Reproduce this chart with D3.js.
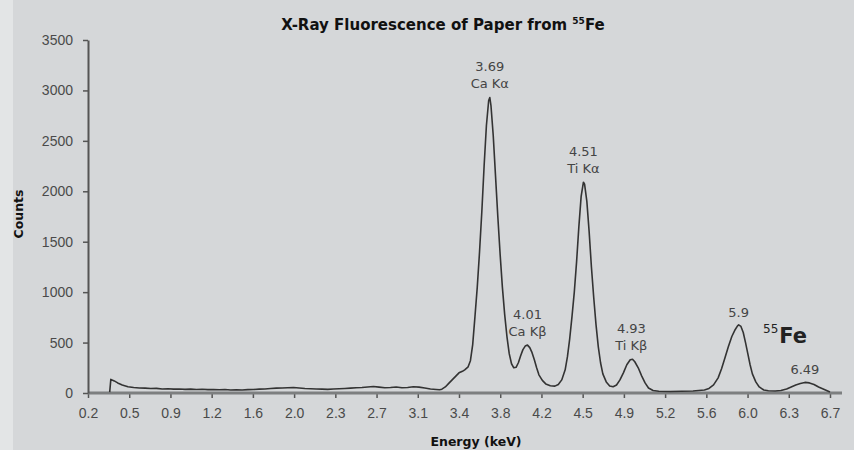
<!DOCTYPE html>
<html>
<head>
<meta charset="utf-8">
<script src="https://cdn.jsdelivr.net/npm/d3@7"></script>
<style>
  body { margin: 0; background: #e3e5e6; }
  svg { display: block; font-family: "DejaVu Sans", Verdana, sans-serif; }
</style>
</head>
<body>
<div id="chart"></div>
<script>
// spectrum: energy (keV) and counts
const energy = [
  0.39, 0.40, 0.43, 0.46, 0.50, 0.55, 0.60, 0.65, 0.70, 0.75, 0.80, 0.85, 0.90, 0.95, 1.00,
  1.05, 1.10, 1.15, 1.20, 1.25, 1.30, 1.35, 1.40, 1.45, 1.50, 1.55, 1.60, 1.65, 1.70, 1.75,
  1.80, 1.85, 1.90, 1.95, 2.00, 2.05, 2.10, 2.15, 2.20, 2.25, 2.30, 2.35, 2.40, 2.45, 2.50,
  2.55, 2.60, 2.65, 2.70, 2.75, 2.80, 2.85, 2.90, 2.95, 3.00, 3.05, 3.10, 3.15, 3.20, 3.25,
  3.28, 3.30, 3.33, 3.36, 3.39, 3.42, 3.45, 3.48, 3.50, 3.53, 3.55, 3.57, 3.59, 3.61, 3.63,
  3.65, 3.67, 3.69, 3.71, 3.72, 3.73, 3.75, 3.77, 3.79, 3.81, 3.83, 3.85, 3.87, 3.89, 3.91,
  3.93, 3.95, 3.97, 3.99, 4.01, 4.03, 4.05, 4.07, 4.09, 4.11, 4.13, 4.15, 4.18, 4.21, 4.25,
  4.29, 4.32, 4.35, 4.38, 4.40, 4.42, 4.44, 4.46, 4.48, 4.50, 4.52, 4.54, 4.55, 4.57, 4.59,
  4.61, 4.63, 4.65, 4.67, 4.69, 4.71, 4.74, 4.77, 4.80, 4.83, 4.86, 4.89, 4.92, 4.95, 4.97,
  4.99, 5.02, 5.05, 5.08, 5.11, 5.15, 5.20, 5.30, 5.40, 5.50, 5.55, 5.60, 5.64, 5.68, 5.72,
  5.75, 5.78, 5.81, 5.84, 5.87, 5.89, 5.90, 5.92, 5.94, 5.96, 5.98, 6.00, 6.02, 6.05, 6.08,
  6.12, 6.16, 6.22, 6.27, 6.32, 6.36, 6.40, 6.44, 6.48, 6.52, 6.56, 6.60, 6.64, 6.68, 6.70
];
const counts = [
  8, 135, 120, 100, 80, 62, 55, 50, 48, 44, 46, 40, 42, 38, 40,
  36, 38, 35, 37, 33, 35, 32, 34, 30, 32, 30, 33, 35, 38, 40,
  45, 48, 50, 52, 55, 50, 45, 42, 40, 38, 36, 40, 42, 45, 48,
  52, 55, 60, 65, 58, 52, 55, 60, 52, 55, 62, 58, 50, 40, 35,
  32, 38, 60, 95, 130, 165, 200, 215, 230, 260, 320, 480, 760, 1050, 1400,
  1800, 2250, 2650, 2900, 2930, 2850, 2550, 2150, 1750, 1380, 1050, 780, 560, 390, 290,
  250, 255, 300, 370, 430, 465, 475, 450, 400, 330, 250, 180, 125, 90, 72,
  68, 85, 130, 230, 360, 540, 760, 1000, 1300, 1650, 1950, 2090, 2070, 1900, 1600,
  1250, 950, 680, 460, 300, 190, 110, 70, 62, 80, 130, 200, 280, 330, 335,
  310, 250, 170, 100, 50, 25, 18, 15, 17, 20, 25, 30, 45, 80, 150,
  240, 350, 460, 560, 630, 665, 675, 660, 600, 500, 390, 280, 190, 110, 60,
  30, 22, 20, 25, 40, 60, 80, 95, 105, 100, 85, 60, 40, 20, 10
];

const xTickLabels = ["0.2", "0.5", "0.9", "1.2", "1.6", "2.0", "2.3", "2.7", "3.1", "3.4",
  "3.8", "4.2", "4.5", "4.9", "5.2", "5.6", "6.0", "6.3", "6.7"];
const yTicks = [0, 500, 1000, 1500, 2000, 2500, 3000, 3500];

// peak annotations: where they sit and what they say
const peakEnergy = [3.72, 4.54, 4.05, 4.96, 5.90, 6.48];
const peakCounts = [2930, 2090, 475, 335, 675, 105];
const peakValue = ["3.69", "4.51", "4.01", "4.93", "5.9", "6.49"];
const peakLine = ["Ca K\u03b1", "Ti K\u03b1", "Ca K\u03b2", "Ti K\u03b2", "", ""];

const width = 854, height = 450;
const margin = { top: 40, right: 24, bottom: 57, left: 88 };

const svg = d3.select("#chart").append("svg")
  .attr("width", width)
  .attr("height", height);

svg.append("rect").attr("width", width).attr("height", height).attr("fill", "#e3e5e6");
svg.append("rect").attr("x", 13).attr("width", width - 13).attr("height", height).attr("fill", "#d5d7d9");

const x = d3.scaleLinear().domain([0.2, 6.7]).range([margin.left, width - margin.right]);
const y = d3.scaleLinear().domain([0, 3500]).range([height - margin.bottom, margin.top]);

const step = (6.7 - 0.2) / (xTickLabels.length - 1);
const xTickVals = xTickLabels.map((d, i) => 0.2 + i * step);

// x axis
const xAxis = svg.append("g")
  .attr("transform", `translate(0,${y(0)})`)
  .call(d3.axisBottom(x).tickValues(xTickVals).tickFormat((d, i) => xTickLabels[i]).tickSize(5).tickSizeOuter(0).tickPadding(10));
xAxis.select(".domain").remove();
xAxis.append("line")
  .attr("x1", margin.left).attr("x2", 842)
  .attr("stroke", "#7d7f80").attr("stroke-width", 3);
xAxis.selectAll(".tick line").attr("stroke", "#555").attr("stroke-width", 1.5);
xAxis.selectAll(".tick text").attr("fill", "#4a4a4a").style("font-size", "14px");

// y axis
const yAxis = svg.append("g")
  .attr("transform", `translate(${margin.left},0)`)
  .call(d3.axisLeft(y).tickValues(yTicks).tickFormat(d3.format("d")).tickSize(5).tickSizeOuter(0).tickPadding(10));
yAxis.select(".domain").attr("stroke", "#555").attr("stroke-width", 2);
yAxis.selectAll(".tick line").attr("stroke", "#555").attr("stroke-width", 1.5);
yAxis.selectAll(".tick text").attr("fill", "#4a4a4a").style("font-size", "14px");

// spectrum
const pts = energy.map((e, i) => [e, counts[i]]);
svg.append("path")
  .datum(pts)
  .attr("fill", "none")
  .attr("stroke", "#333")
  .attr("stroke-width", 1.6)
  .attr("stroke-linejoin", "round")
  .attr("d", d3.line().x(d => x(d[0])).y(d => y(d[1])));

// peak labels
peakEnergy.forEach((e, i) => {
  const px = x(e), py = y(peakCounts[i]);
  const g = svg.append("g").attr("text-anchor", "middle").attr("fill", "#444").style("font-size", "13px");
  if (peakLine[i]) {
    g.append("text").attr("x", px).attr("y", py - 26).text(peakValue[i]);
    g.append("text").attr("x", px).attr("y", py - 9.5).text(peakLine[i]);
  } else {
    g.append("text").attr("x", px).attr("y", py - 8).text(peakValue[i]);
  }
});

// 55Fe source label
const fe = svg.append("text").attr("x", 763).attr("y", 343).attr("fill", "#222");
fe.append("tspan").style("font-size", "12px").attr("dy", -10).text("55");
fe.append("tspan").style("font-size", "21px").style("font-weight", "bold").attr("dx", 1).attr("dy", 10).text("Fe");

// title
const title = svg.append("text")
  .attr("x", 443).attr("y", 30)
  .attr("text-anchor", "middle")
  .attr("fill", "#111")
  .style("font-weight", "bold")
  .style("font-size", "15px");
title.append("tspan").text("X-Ray Fluorescence of Paper from ");
title.append("tspan").style("font-size", "9px").attr("dy", -6).text("55");
title.append("tspan").attr("dy", 6).text("Fe");

// axis titles
svg.append("text")
  .attr("x", 476).attr("y", 446)
  .attr("text-anchor", "middle")
  .attr("fill", "#111")
  .style("font-weight", "bold")
  .style("font-size", "12.5px")
  .text("Energy (keV)");

svg.append("text")
  .attr("transform", "translate(23,214) rotate(-90)")
  .attr("text-anchor", "middle")
  .attr("fill", "#111")
  .style("font-weight", "bold")
  .style("font-size", "12.5px")
  .text("Counts");
</script>
</body>
</html>
